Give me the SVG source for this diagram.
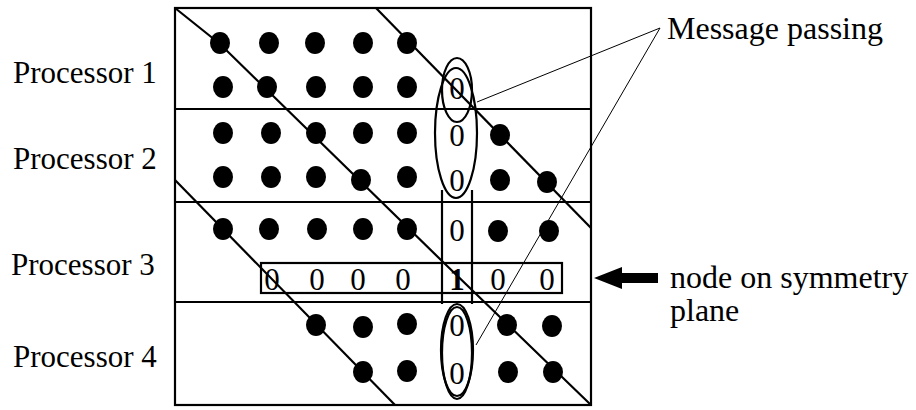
<svg xmlns="http://www.w3.org/2000/svg" width="916" height="410" viewBox="0 0 916 410">
<style>
.t{font-family:"Liberation Serif","Times New Roman",serif;font-size:32px;fill:#000}
.p{font-family:"Liberation Serif","Times New Roman",serif;font-size:31px;fill:#000}
.z{font-family:"Liberation Serif","Times New Roman",serif;font-size:31px;fill:#000;text-anchor:middle}
.b{font-weight:bold}
.ln{stroke:#000;stroke-width:2.2;fill:none}
.thin{stroke:#000;stroke-width:1;fill:none}
.dot{fill:#000}
</style>
<rect width="916" height="410" fill="#fff"/>
<g id="labels">
<text class="p" x="13" y="83">Processor 1</text>
<text class="p" x="13" y="169">Processor 2</text>
<text class="p" x="11" y="275">Processor 3</text>
<text class="p" x="13" y="367">Processor 4</text>
<text class="t" x="667" y="39">Message passing</text>
<text class="t" x="670" y="288">node on symmetry</text>
<text class="t" x="670" y="321">plane</text>
</g>
<g id="grid">
<rect x="175" y="8" width="416" height="397" class="ln" stroke-width="2.5"/>
<line x1="175" y1="109" x2="591" y2="109" class="ln"/>
<line x1="175" y1="202" x2="591" y2="202" class="ln"/>
<line x1="175" y1="302" x2="591" y2="302" class="ln"/>
</g>
<g id="diagonals">
<polyline points="175,8 220,44 443,262 591,405" class="ln"/>
<line x1="376" y1="8" x2="591" y2="228" class="ln"/>
<line x1="175" y1="180" x2="395" y2="405" class="ln"/>
</g>
<g id="dots" class="dot">
<ellipse cx="220" cy="43" rx="10" ry="11"/><ellipse cx="269" cy="43" rx="10" ry="11"/><ellipse cx="315" cy="43" rx="10" ry="11"/><ellipse cx="363" cy="43" rx="10" ry="11"/><ellipse cx="407" cy="43" rx="10" ry="11"/>
<ellipse cx="223" cy="87" rx="10" ry="11"/><ellipse cx="267" cy="87" rx="10" ry="11"/><ellipse cx="316" cy="87" rx="10" ry="11"/><ellipse cx="363" cy="87" rx="10" ry="11"/><ellipse cx="407" cy="87" rx="10" ry="11"/>
<ellipse cx="223" cy="133" rx="10" ry="11"/><ellipse cx="271" cy="133" rx="10" ry="11"/><ellipse cx="316" cy="133" rx="10" ry="11"/><ellipse cx="363" cy="133" rx="10" ry="11"/><ellipse cx="407" cy="133" rx="10" ry="11"/><ellipse cx="500" cy="135" rx="10" ry="11"/>
<ellipse cx="223" cy="177" rx="10" ry="11"/><ellipse cx="271" cy="177" rx="10" ry="11"/><ellipse cx="316" cy="177" rx="10" ry="11"/><ellipse cx="361" cy="180" rx="10" ry="11"/><ellipse cx="407" cy="177" rx="10" ry="11"/><ellipse cx="500" cy="180" rx="10" ry="11"/><ellipse cx="547" cy="182" rx="10" ry="11"/>
<ellipse cx="223" cy="229" rx="10" ry="11"/><ellipse cx="269" cy="229" rx="10" ry="11"/><ellipse cx="317" cy="229" rx="10" ry="11"/><ellipse cx="363" cy="229" rx="10" ry="11"/><ellipse cx="407" cy="229" rx="10" ry="11"/><ellipse cx="498" cy="231" rx="10" ry="11"/><ellipse cx="549" cy="231" rx="10" ry="11"/>
<ellipse cx="316" cy="325" rx="10" ry="11"/><ellipse cx="363" cy="327" rx="10" ry="11"/><ellipse cx="407" cy="324" rx="10" ry="11"/><ellipse cx="507" cy="325" rx="10" ry="11"/><ellipse cx="552" cy="326" rx="10" ry="11"/>
<ellipse cx="363" cy="372" rx="10" ry="11"/><ellipse cx="407" cy="371" rx="10" ry="11"/><ellipse cx="508" cy="372" rx="10" ry="11"/><ellipse cx="553" cy="372" rx="10" ry="11"/>
</g>
<g id="column">
<line x1="442" y1="190" x2="442" y2="304" class="ln"/>
<line x1="472" y1="190" x2="472" y2="304" class="ln"/>
<text class="z" x="457" y="99">0</text>
<text class="z" x="457" y="146">0</text>
<text class="z" x="457" y="191">0</text>
<text class="z" x="457" y="241">0</text>
<text class="z" x="457" y="336">0</text>
<text class="z" x="457" y="384">0</text>
</g>
<g id="symmetry-row">
<rect x="261" y="263" width="301" height="30" class="ln"/>
<text class="z" x="272" y="290">0</text>
<text class="z" x="317" y="290">0</text>
<text class="z" x="358" y="290">0</text>
<text class="z" x="403" y="290">0</text>
<text class="z b" x="457" y="290">1</text>
<text class="z" x="498" y="290">0</text>
<text class="z" x="547" y="290">0</text>
</g>
<g id="ellipses">
<ellipse cx="457" cy="90" rx="15" ry="32" class="ln"/>
<ellipse cx="456" cy="133" rx="21" ry="65" class="ln" stroke-width="4"/>
<ellipse cx="457" cy="353" rx="15" ry="46" class="ln" stroke-width="1.5"/>
<ellipse cx="457" cy="350" rx="16" ry="46" class="ln" stroke-width="3.5"/>
</g>
<g id="connectors">
<line x1="660" y1="28" x2="477" y2="102" class="thin"/>
<line x1="660" y1="28" x2="476" y2="345" class="thin"/>
<polygon points="594,278 622,267 622,273 658,273 658,283 622,283 622,289" fill="#000"/>
</g>
</svg>
